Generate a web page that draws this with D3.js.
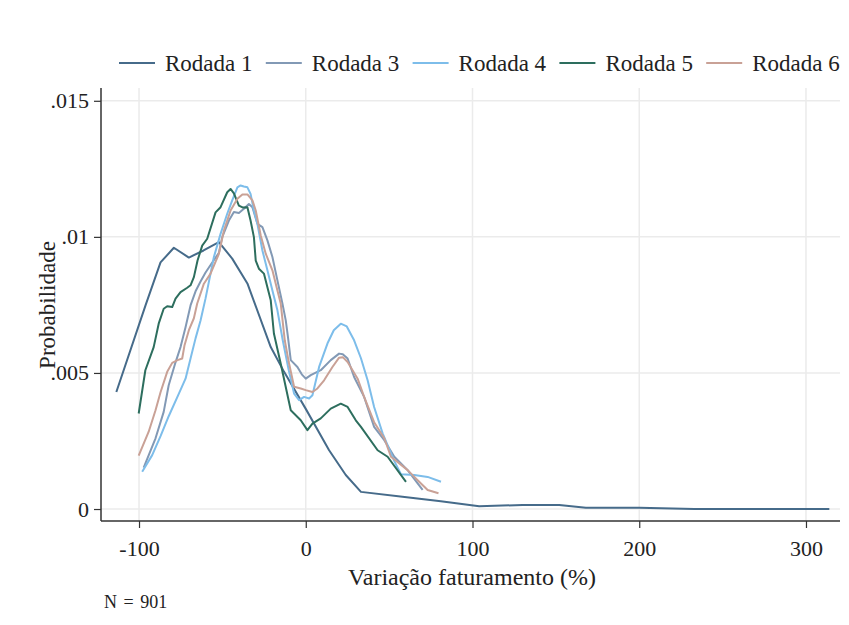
<!DOCTYPE html>
<html>
<head>
<meta charset="utf-8">
<script src="https://cdn.jsdelivr.net/npm/d3@7"></script>
<style>
  html, body { margin: 0; padding: 0; background: #fff; }
  svg { display: block; }
  svg text { font-family: "Liberation Serif", serif !important; fill: #222; }
</style>
</head>
<body>
<svg id="chart" width="849" height="625"></svg>
<script>
// Kernel density estimates of revenue change (%), one per survey round
const seriesNames = ["Rodada 1", "Rodada 3", "Rodada 4", "Rodada 5", "Rodada 6"];
const seriesColors = ["#466b8a", "#8299b5", "#7dbdea", "#2d6e5e", "#c9a196"];

const rodada1 = [
  [-113.6, .00430], [-96, .00750], [-87.1, .00906], [-79.1, .00960],
  [-70.1, .00924], [-61.3, .00950], [-52.1, .00981], [-44.1, .00920], [-35.0, .00829],
  [-21.0, .00595], [-13.0, .00504], [0, .00368], [14.0, .00216], [24.0, .00125],
  [33.1, .00063], [58, .00045], [81, .00029], [104, .00010], [130, .00015],
  [152, .00015], [168, .00005], [200, .00005], [233, .00000], [314, .00000]
];

const rodada3 = [
  [-97.2, .00152], [-90.1, .00260], [-85.2, .00357], [-82.2, .00455], [-78.1, .00539],
  [-75.1, .00595], [-72.1, .00668], [-69.1, .00748], [-66.1, .00800], [-63.1, .00836],
  [-60.1, .00869], [-56.1, .00906], [-52.1, .00941], [-50.1, .00999], [-46.1, .01060],
  [-43.1, .01091], [-40.1, .01088], [-37.1, .01103], [-34.1, .01121], [-32.0, .01109],
  [-29.0, .01048], [-26.0, .01036], [-23.0, .00987], [-20.0, .00926], [-17.0, .00840],
  [-14.0, .00755], [-12.0, .00693], [-10.8, .00638], [-9.0, .00547], [-5.0, .00522],
  [-2.4, .00495], [0, .00479], [3.0, .00492], [9.0, .00510], [15.0, .00547],
  [20.0, .00571], [22.2, .00569], [25.1, .00553], [29.0, .00485], [35.0, .00412],
  [41.0, .00302], [47.1, .00253], [53.1, .00192], [61.1, .00143], [67.1, .00094],
  [70.1, .00070]
];

const rodada4 = [
  [-98.1, .00137], [-92.1, .00198], [-87.1, .00268], [-82.2, .00341], [-76.1, .00424],
  [-72.1, .00479], [-69.1, .00553], [-66.1, .00627], [-63.1, .00693], [-60.1, .00774],
  [-55.1, .00926], [-51.1, .01011], [-47.1, .01085], [-44.1, .01134], [-41.0, .01182],
  [-39.1, .01189], [-37.1, .01185], [-35.0, .01182], [-33.1, .01158], [-31.1, .01097],
  [-29.0, .01048], [-26.0, .00950], [-23.0, .00877], [-20.0, .00803], [-17.0, .00730],
  [-13.8, .00620], [-10.2, .00510], [-7.0, .00424], [-4.0, .00400], [-1.0, .00412],
  [2.0, .00406], [4.0, .00418], [8.0, .00522], [13.0, .00608], [16.8, .00657],
  [21.0, .00681], [24.6, .00671], [29.0, .00620], [33.1, .00554], [37.1, .00473],
  [41.0, .00375], [46.1, .00278], [53.1, .00176], [57.1, .00128], [65.1, .00125],
  [73.1, .00118], [81.1, .00100]
];

const rodada5 = [
  [-100.2, .00351], [-96.2, .00510], [-91.2, .00595], [-88.2, .00681], [-85.2, .00736],
  [-83.1, .00745], [-80.1, .00742], [-78.1, .00773], [-75.1, .00797], [-71.1, .00813],
  [-69.1, .00822], [-67.1, .00852], [-64.9, .00913], [-62.1, .00968], [-59.1, .00993],
  [-54.1, .01090], [-51.1, .01109], [-47.1, .01164], [-45.1, .01176], [-43.1, .01160],
  [-40.1, .01115], [-37.9, .01108], [-35.0, .01109], [-33.1, .01060], [-31.1, .00999],
  [-30.0, .00913], [-28.1, .00883], [-25.1, .00865], [-23.0, .00815], [-21.0, .00767],
  [-19.1, .00645], [-15.0, .00534], [-9.0, .00363], [-3.0, .00326], [1.0, .00290],
  [4.0, .00314], [9.0, .00333], [15.0, .00369], [21.0, .00387], [25.1, .00375],
  [30.0, .00326], [33.1, .00302], [43.1, .00216], [49.1, .00192], [60.1, .00100]
];

const rodada6 = [
  [-100.2, .00196], [-94.2, .00284], [-90.1, .00363], [-87.1, .00429], [-83.1, .00504],
  [-80.1, .00537], [-76.9, .00547], [-74.1, .00553], [-72.7, .00602], [-70.1, .00657],
  [-67.1, .00701], [-65.1, .00755], [-61.1, .00828], [-57.1, .00865], [-52.1, .00938],
  [-49.1, .01023], [-45.1, .01097], [-41.0, .01140], [-38.0, .01156], [-35.0, .01156],
  [-32.0, .01134], [-30.0, .01097], [-27.0, .01005], [-24.0, .00938], [-20.0, .00877],
  [-17.0, .00803], [-15.0, .00755], [-12.6, .00620], [-10.2, .00540], [-7.0, .00449],
  [-3.0, .00443], [0, .00437], [4.0, .00430], [7.0, .00443], [11.0, .00473],
  [16.0, .00522], [20.0, .00556], [22.2, .00558], [25.1, .00540], [31.1, .00479],
  [35.0, .00412], [41.0, .00319], [47.1, .00260], [51.1, .00192], [61.1, .00143],
  [67.1, .00106], [73.1, .00070], [79.6, .00058]
];

const xTicks = [-100, 0, 100, 200, 300];
const yTicks = [0, .005, .01, .015];
const yTickLabels = ["0", ".005", ".01", ".015"];

const allSeries = [rodada1, rodada3, rodada4, rodada5, rodada6];

const serif = '"Liberation Serif", serif';
const svg = d3.select("#chart");

const plot = { left: 101, right: 840, top: 88, bottom: 521 };

const x = d3.scaleLinear().domain([-122.8, 320.4]).range([plot.left, plot.right]);
const y = d3.scaleLinear().domain([-0.00044, 0.01547]).range([plot.bottom, plot.top]);

// grid
const grid = svg.append("g").attr("stroke", "#ebebeb").attr("stroke-width", 1.5);
grid.selectAll("line.v").data(xTicks).join("line")
  .attr("x1", d => x(d)).attr("x2", d => x(d))
  .attr("y1", plot.top).attr("y2", plot.bottom);
grid.selectAll("line.h").data(yTicks).join("line")
  .attr("x1", plot.left).attr("x2", plot.right)
  .attr("y1", d => y(d)).attr("y2", d => y(d));

// density curves
const line = d3.line().x(d => x(d[0])).y(d => y(d[1]));
svg.append("g").selectAll("path").data(allSeries).join("path")
  .attr("d", line)
  .attr("fill", "none")
  .attr("stroke", (d, i) => seriesColors[i])
  .attr("stroke-width", 2)
  .attr("stroke-linejoin", "round");

// axes
const xAxis = d3.axisBottom(x).tickValues(xTicks).tickSize(7).tickPadding(12)
  .tickFormat(d => d < 0 ? "-" + Math.abs(d) : String(d));
const gx = svg.append("g").attr("transform", `translate(0,${plot.bottom})`).call(xAxis)
  .attr("font-family", serif);
gx.select(".domain").attr("d", `M${plot.left},0H${plot.right}`).attr("stroke", "#333").attr("stroke-width", 1.5);
gx.selectAll(".tick line").attr("stroke", "#333").attr("stroke-width", 1.2);
gx.selectAll(".tick text").attr("font-size", 22).attr("fill", "#222");

const yAxis = d3.axisLeft(y).tickValues(yTicks).tickSize(7).tickPadding(5)
  .tickFormat((d, i) => yTickLabels[i]);
const gy = svg.append("g").attr("transform", `translate(${plot.left},0)`).call(yAxis)
  .attr("font-family", serif);
gy.select(".domain").attr("d", `M0,${plot.top}V${plot.bottom}`).attr("stroke", "#333").attr("stroke-width", 1.5);
gy.selectAll(".tick line").attr("stroke", "#333").attr("stroke-width", 1.2);
gy.selectAll(".tick text").attr("font-size", 22).attr("fill", "#222");

// axis titles
svg.append("text")
  .attr("x", 472).attr("y", 585)
  .attr("text-anchor", "middle").attr("font-size", 24)
  .attr("font-family", serif)
  .text("Variação faturamento (%)");

svg.append("text")
  .attr("transform", "translate(55,305) rotate(-90)")
  .attr("text-anchor", "middle").attr("font-size", 23)
  .attr("font-family", serif)
  .text("Probabilidade");

svg.append("text")
  .attr("x", 104).attr("y", 608)
  .attr("font-size", 18)
  .attr("font-family", serif)
  .style("word-spacing", "2px")
  .text("N = 901");

// legend
const legend = svg.append("g").attr("transform", "translate(119,63)");
const item = legend.selectAll("g").data(seriesNames).join("g")
  .attr("transform", (d, i) => `translate(${i * 146.8},0)`);
item.append("line")
  .attr("x1", 0).attr("x2", 36).attr("y1", 0).attr("y2", 0)
  .attr("stroke", (d, i) => seriesColors[i]).attr("stroke-width", 2);
item.append("text")
  .attr("x", 46).attr("y", 7.5)
  .attr("font-size", 23)
  .attr("font-family", serif)
  .text(d => d);
</script>
</body>
</html>
